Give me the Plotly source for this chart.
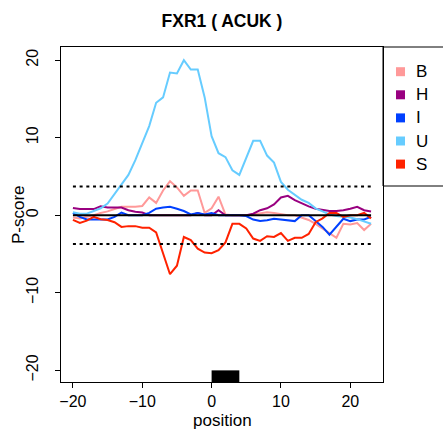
import plotly.graph_objects as go

# Positions relative to the motif start
positions = list(range(-20, 24))

# P-score profiles per region class
series_names = ["B", "H", "I", "U", "S"]
series_colors = ["#FF9999", "#990080", "#0040FF", "#66CCFF", "#FF2200"]

score_B = [-0.3, -0.4, -0.2, 0.0, 0.3, 0.5, 0.8, 1.1, 1.1, 1.1,
           1.2, 2.3, 1.6, 3.2, 4.4, 3.6, 2.5, 3.2, 3.2, 0.3,
           0.9, 2.4, 0.1, 0.0, 0.0, 0.0, 0.1, 0.3, 0.4, 0.3,
           0.1, 0.0, 0.0, -0.3, -0.6, -1.1, -1.7, -2.2, -2.9, -1.1,
           -1.2, -1.0, -1.9, -1.1]
score_H = [0.95, 0.8, 0.8, 0.8, 1.15, 1.0, 1.0, 1.0, 0.65, 0.45,
           0.35, 0.0, 0.0, 0.0, 0.0, 0.0, 0.0, 0.0, 0.3, 0.0,
           0.0, 0.65, 0.0, 0.0, 0.0, 0.0, 0.2, 0.65, 0.9, 1.4,
           2.3, 2.5, 1.95, 1.5, 1.15, 0.85, 0.65, 0.55, 0.55, 0.65,
           0.85, 1.1, 0.65, 0.5]
score_I = [0.3, -0.2, -0.55, -0.55, -0.55, -0.55, -0.2, 0.35, 0.0, 0.0,
           0.0, 0.3, 0.85, 1.0, 1.1, 0.85, 0.55, 0.1, 0.3, 0.1,
           0.3, 0.0, 0.0, 0.0, 0.0, -0.1, -0.55, -0.75, -0.65, -0.45,
           -0.55, -0.65, -0.75, 0.0, 0.0, -0.75, -1.5, -2.5, -1.5, -0.45,
           -0.75, -0.55, -0.55, -0.2]
score_U = [0.4, 0.2, 0.2, 0.5, 0.9, 1.5, 2.7, 3.9, 5.2, 7.1,
           9.3, 11.5, 14.5, 15.2, 18.4, 18.3, 20.0, 18.8, 18.8, 15.2,
           10.2, 8.0, 7.5, 5.8, 5.2, 7.4, 9.6, 9.6, 7.7, 6.8,
           4.3, 3.3, 2.6, 2.0, 1.6, 0.9, 0.5, 0.1, -0.1, -0.2,
           -0.3, -0.5, -0.8, -1.1]
score_S = [-0.6, -1.0, -0.7, -0.2, -0.5, -0.6, -0.9, -1.5, -1.4, -1.4,
           -1.6, -1.6, -2.2, -4.9, -7.6, -6.5, -2.8, -3.2, -4.3, -4.8,
           -4.9, -4.5, -3.5, -1.1, -1.1, -1.7, -3.0, -3.3, -2.7, -2.8,
           -2.3, -3.3, -2.9, -2.9, -2.4, -0.9, -0.4, 0.3, 0.3, -0.2,
           0.0, 0.0, 0.3, -0.4]
all_scores = [score_B, score_H, score_I, score_U, score_S]

# Significance threshold and motif span
threshold = 3.7
motif_start, motif_end = 0, 4
motif_bar_top = -20

x_ticks = [-20, -10, 0, 10, 20]
y_ticks = [-20, -10, 0, 10, 20]

FONT = "Liberation Sans, Arial, sans-serif"

fig = go.Figure()

for name, color, ys in zip(series_names, series_colors, all_scores):
    fig.add_trace(go.Scatter(x=positions, y=ys, mode="lines", name=name,
                             line=dict(color=color, width=2),
                             showlegend=False, hoverinfo="skip"))

# zero baseline
fig.add_trace(go.Scatter(x=[positions[0], positions[-1]], y=[0, 0], mode="lines",
                         line=dict(color="black", width=2), showlegend=False))
# threshold lines
for t in (threshold, -threshold):
    fig.add_trace(go.Scatter(x=[positions[0], positions[-1]], y=[t, t], mode="lines",
                             line=dict(color="black", width=2, dash="3px,3.7px"),
                             showlegend=False))

# motif block at the bottom
fig.add_shape(type="rect", xref="x", yref="y", x0=motif_start, x1=motif_end,
              y0=motif_bar_top - 3, y1=motif_bar_top,
              fillcolor="black", line=dict(width=0), layer="above")

# legend drawn as a boxed list on the right
L, R, T, B = 61, 383, 47, 382
W, H = R - L, B - T
def px(xp):
    return (xp - L) / W
def py(yp):
    return (B - yp) / H

fig.add_shape(type="rect", xref="paper", yref="paper",
              x0=1.0, x1=px(470), y0=py(186), y1=1.0,
              line=dict(color="black", width=1), fillcolor="rgba(0,0,0,0)")
for i, (name, color) in enumerate(zip(series_names, series_colors)):
    yc = 71.7 + i * 23.1
    fig.add_shape(type="rect", xref="paper", yref="paper",
                  x0=px(396), x1=px(405), y0=py(yc + 4.5), y1=py(yc - 4.5),
                  fillcolor=color, line=dict(width=0))
    fig.add_annotation(x=px(414), y=py(yc), xref="paper", yref="paper",
                       text=name, showarrow=False, xanchor="left", yanchor="middle",
                       font=dict(family=FONT, size=17, color="black"))

# axis titles
fig.add_annotation(x=0.5, y=py(420), xref="paper", yref="paper", text="position",
                   showarrow=False, xanchor="center", yanchor="middle",
                   font=dict(family=FONT, size=17, color="black"))
fig.add_annotation(x=px(18), y=py(215), xref="paper", yref="paper", text="P-score",
                   showarrow=False, xanchor="center", yanchor="middle", textangle=-90,
                   font=dict(family=FONT, size=17, color="black"))

fig.update_layout(
    width=443, height=436,
    margin=dict(l=L, r=443 - R, t=T, b=436 - B),
    paper_bgcolor="white", plot_bgcolor="white",
    font=dict(family=FONT, size=16, color="black"),
    title=dict(text="<b>FXR1 ( ACUK )</b>", x=0.5, xref="paper", xanchor="center",
               y=1 - 20.7 / 436, yref="container", yanchor="middle",
               font=dict(family=FONT, size=17.5, color="black")),
    showlegend=False,
)
fig.update_xaxes(range=[-21.72, 24.72], tickvals=x_ticks, ticks="outside", ticklen=5,
                 tickcolor="black", showgrid=False, zeroline=False,
                 showline=True, linecolor="black", linewidth=1.3, mirror=True,
                 tickfont=dict(family=FONT, size=16))
fig.update_yaxes(range=[-21.5, 21.7], tickvals=y_ticks, ticks="outside", ticklen=5,
                 tickcolor="black", showgrid=False, zeroline=False,
                 showline=True, linecolor="black", linewidth=1.3, mirror=True,
                 tickangle=-90, ticklabelstandoff=10,
                 tickfont=dict(family=FONT, size=16))

fig.write_html("out.html")
